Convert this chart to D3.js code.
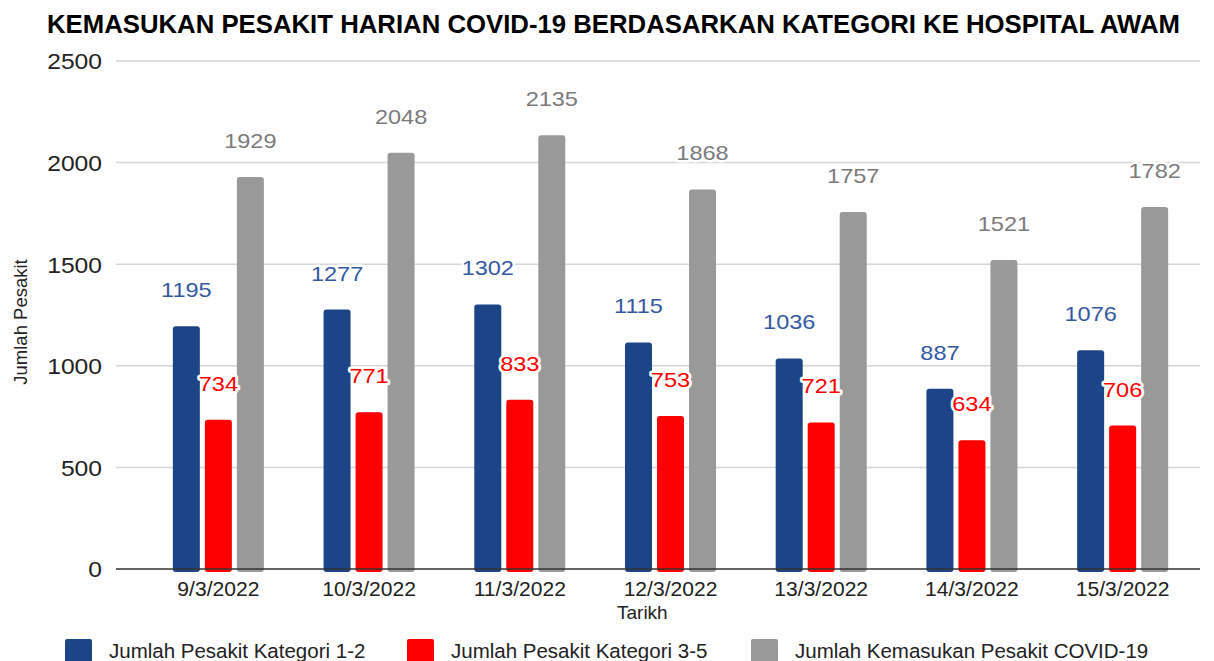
<!DOCTYPE html>
<html>
<head>
<meta charset="utf-8">
<script src="https://cdn.jsdelivr.net/npm/d3@7"></script>
<style>
  body { margin: 0; background: #fff; }
  .chart text { font-family: 'Liberation Sans', Arial, sans-serif; }
  .grid line { stroke: #d6d6d6; stroke-width: 1.5; }
  .value { paint-order: stroke; stroke: #fff; stroke-width: 5; stroke-linejoin: round; }
</style>
</head>
<body>
<svg class="chart"></svg>
<script>
const dates = ['9/3/2022', '10/3/2022', '11/3/2022', '12/3/2022', '13/3/2022', '14/3/2022', '15/3/2022'];
const seriesNames = ['Jumlah Pesakit Kategori 1-2', 'Jumlah Pesakit Kategori 3-5', 'Jumlah Kemasukan Pesakit COVID-19'];
const kategori12 = [1195, 1277, 1302, 1115, 1036, 887, 1076];
const kategori35 = [734, 771, 833, 753, 721, 634, 706];
const kemasukan = [1929, 2048, 2135, 1868, 1757, 1521, 1782];
const yTicks = [0, 500, 1000, 1500, 2000, 2500];

const barColors = ['#1c4587', '#ff0000', '#999999'];
const labelColors = ['#3459a3', '#ff0000', '#7b7b7b'];

// stretch text horizontally a bit, the picture is slightly wide
const stretch = (sel, factor) => sel.each(function () {
  const len = this.getComputedTextLength();
  d3.select(this).attr('textLength', len * factor).attr('lengthAdjust', 'spacingAndGlyphs');
});

const startApp = () => {
  const width = 1214;
  const height = 661;
  const plot = { left: 116, right: 1200, top: 61, bottom: 569 };
  const svg = d3.select('.chart').attr('width', width).attr('height', height);

  const series = [kategori12, kategori35, kemasukan];
  const rows = dates.map((date, i) => ({ date, values: series.map(s => s[i]) }));

  const yScale = d3.scaleLinear().domain([0, 2500]).range([plot.bottom, plot.top]);
  const xScale = d3.scaleBand().domain(dates).range([143, 1198]).paddingInner(0.396).paddingOuter(0.198);
  const subScale = d3.scaleBand().domain(d3.range(3)).range([0, xScale.bandwidth()]).paddingInner(0.156);

  // title
  svg.append('text')
    .attr('x', 47).attr('y', 33)
    .attr('font-size', 25).attr('font-weight', 'bold').attr('fill', '#000')
    .attr('textLength', 1133).attr('lengthAdjust', 'spacingAndGlyphs')
    .text('KEMASUKAN PESAKIT HARIAN COVID-19 BERDASARKAN KATEGORI KE HOSPITAL AWAM');

  // gridlines + y labels
  const yAxis = d3.axisLeft(yScale).tickValues(yTicks).tickFormat(d3.format('d')).tickSize(0).tickPadding(14);
  const yG = svg.append('g').attr('transform', `translate(${plot.left}, 0)`).call(yAxis);
  yG.select('.domain').remove();
  yG.selectAll('text').attr('font-size', 22).attr('fill', '#222').attr('dy', '0.36em')
    .call(stretch, 1.12);

  svg.append('g').classed('grid', true)
    .selectAll('line')
    .data(yTicks.filter(t => t > 0))
    .join('line')
    .attr('x1', plot.left).attr('x2', plot.right)
    .attr('y1', d => yScale(d)).attr('y2', d => yScale(d));

  // bars
  const groups = svg.append('g').selectAll('g')
    .data(rows)
    .join('g')
    .attr('transform', d => `translate(${xScale(d.date)}, 0)`);

  groups.selectAll('rect')
    .data(d => d.values)
    .join('rect')
    .attr('x', (d, i) => subScale(i))
    .attr('width', subScale.bandwidth())
    .attr('y', d => yScale(d))
    .attr('height', d => yScale(0) - yScale(d) + 3)
    .attr('rx', 3)
    .attr('fill', (d, i) => barColors[i]);

  // baseline
  svg.append('line')
    .attr('x1', plot.left).attr('x2', plot.right)
    .attr('y1', yScale(0)).attr('y2', yScale(0))
    .attr('stroke', '#333').attr('stroke-width', 1.5);

  // value labels
  groups.selectAll('text.value')
    .data(d => d.values)
    .join('text')
    .classed('value', true)
    .attr('x', (d, i) => subScale(i) + subScale.bandwidth() / 2)
    .attr('y', d => yScale(d) - 29)
    .attr('text-anchor', 'middle')
    .attr('font-size', 21)
    .attr('fill', (d, i) => labelColors[i])
    .text(d => d)
    .call(stretch, 1.12);

  // x labels
  const xAxis = d3.axisBottom(xScale).tickSize(0).tickPadding(13);
  const xG = svg.append('g').attr('transform', `translate(0, ${plot.bottom})`).call(xAxis);
  xG.select('.domain').remove();
  xG.selectAll('text').attr('font-size', 19.5).attr('fill', '#222').call(stretch, 1.08);

  // axis titles
  svg.append('text')
    .attr('x', 617).attr('y', 619)
    .attr('font-size', 19).attr('fill', '#222')
    .text('Tarikh');

  svg.append('text')
    .attr('transform', 'translate(27, 322) rotate(-90)')
    .attr('text-anchor', 'middle')
    .attr('font-size', 18.5).attr('fill', '#222')
    .text('Jumlah Pesakit');

  // legend
  const legendX = [65, 407, 751];
  const legend = svg.append('g').selectAll('g')
    .data(seriesNames)
    .join('g')
    .attr('transform', (d, i) => `translate(${legendX[i]}, 639)`);

  legend.append('rect')
    .attr('width', 27).attr('height', 26).attr('rx', 2)
    .attr('fill', (d, i) => barColors[i]);

  legend.append('text')
    .attr('x', 44).attr('y', 19)
    .attr('font-size', 20.5).attr('fill', '#222')
    .text(d => d);
};

window.onload = startApp;
</script>
</body>
</html>
